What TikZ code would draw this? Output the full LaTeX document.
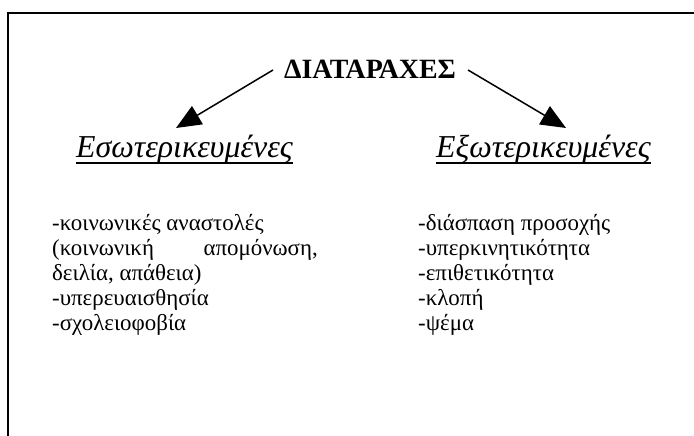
\documentclass[tikz,border=0pt]{standalone}
\usepackage{fontspec}
\setmainfont{Liberation Serif}
\usetikzlibrary{arrows.meta}
\begin{document}
\begin{tikzpicture}[x=1bp,y=-1bp,
  frame/.style={line width=1.6bp},
  arr/.style={line width=1.5bp,-{Triangle[length=25bp,width=21bp]}},
  titletxt/.style={font=\fontsize{28}{32}\selectfont\bfseries,inner sep=0pt,anchor=base},
  headtxt/.style={font=\fontsize{32}{36}\selectfont\itshape,inner sep=0pt,anchor=base west},
  bodytxt/.style={font=\fontsize{23}{26}\selectfont,inner sep=0pt,anchor=base west},
  bodyright/.style={font=\fontsize{23}{26}\selectfont,inner sep=0pt,anchor=base east},
  uline/.style={line width=1.5bp}]
\useasboundingbox (0,0) rectangle (694,436);
\draw[frame] (8,436) -- (8,13) -- (694,13);
\node[titletxt] (title) at (370,79) {ΔΙΑΤΑΡΑΧΕΣ};
\coordinate (ls) at (273,70);
\coordinate (le) at (176,128);
\coordinate (rs) at (468,70);
\coordinate (re) at (566,128);
\draw[arr] (ls) -- (le);
\draw[arr] (rs) -- (re);
\node[headtxt] (h1) at (76,158) {Εσωτερικευμένες};
\node[headtxt] (h2) at (436,158) {Εξωτερικευμένες};
\draw[uline] ([yshift=-5bp]h1.base west) -- ([yshift=-5bp]h1.base east);
\draw[uline] ([yshift=-5bp]h2.base west) -- ([yshift=-5bp]h2.base east);
\node[bodytxt] (l1) at (52,231) {-κοινωνικές αναστολές};
\node[bodytxt] (l2a) at (52,256) {(κοινωνική};
\node[bodyright] (l2b) at (318,256) {απομόνωση,};
\node[bodytxt] (l3) at (52,281) {δειλία, απάθεια)};
\node[bodytxt] (l4) at (52,306) {-υπερευαισθησία};
\node[bodytxt] (l5) at (52,331) {-σχολειοφοβία};
\node[bodytxt] (r1) at (418,231) {-διάσπαση προσοχής};
\node[bodytxt] (r2) at (418,256) {-υπερκινητικότητα};
\node[bodytxt] (r3) at (418,281) {-επιθετικότητα};
\node[bodytxt] (r4) at (418,306) {-κλοπή};
\node[bodytxt] (r5) at (418,331) {-ψέμα};
\end{tikzpicture}
\end{document}
